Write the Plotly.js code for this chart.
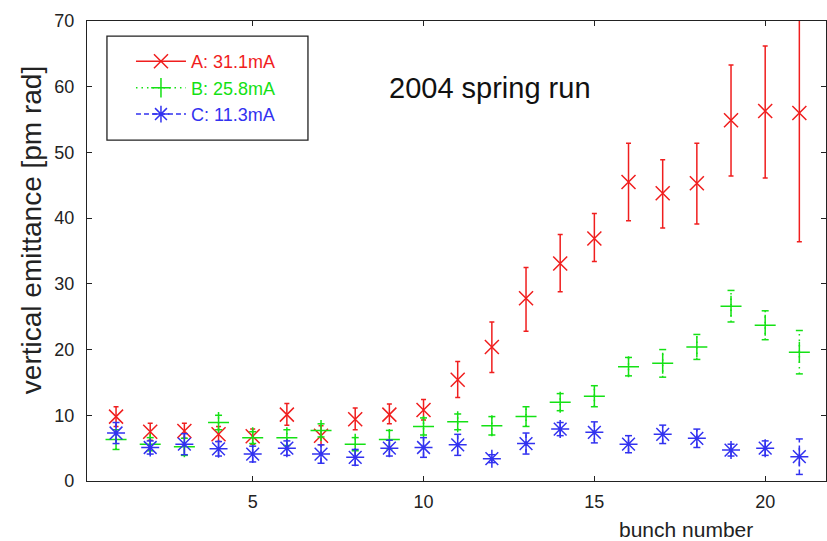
<!DOCTYPE html>
<html>
<head>
<meta charset="utf-8">
<script src="https://cdn.plot.ly/plotly-3.0.1.min.js"></script>
<style>
  html, body { margin: 0; padding: 0; background: #fff; }
  #chart { width: 827px; height: 541px; }
</style>
</head>
<body>
<div id="chart"></div>
<script>
// Bunch-by-bunch vertical emittance, 2004 spring run
const bunch = [1,2,3,4,5,6,7,8,9,10,11,12,13,14,15,16,17,18,19,20,21];

// A: 31.1 mA
const emitA     = [9.8, 7.5, 7.6, 7.1, 6.8, 10.1, 6.9, 9.4, 10.1, 10.8, 15.4, 20.4, 27.8, 33.1, 36.9, 45.5, 43.8, 45.3, 54.9, 56.3, 56.0];
const errA_up   = [1.5, 1.3, 1.2, 1.2, 1.1, 1.7, 1.5, 1.7, 1.6, 1.6, 2.8, 3.8, 4.7, 4.4, 3.8, 5.9, 5.1, 6.1, 8.4, 9.9, 19.6];
const errA_down = [1.5, 1.3, 1.1, 1.1, 1.2, 1.6, 1.4, 1.6, 1.4, 1.5, 2.7, 3.9, 5.0, 4.3, 3.5, 5.9, 5.3, 6.2, 8.5, 10.2, 19.6];

// B: 25.8 mA
const emitB = [6.3, 5.6, 5.2, 8.9, 6.6, 6.6, 7.7, 5.6, 6.3, 8.3, 9.0, 8.4, 9.8, 12.0, 12.9, 17.4, 17.9, 20.4, 26.6, 23.7, 19.6];
const errB  = [1.5, 1.0, 1.3, 1.1, 0.9, 1.2, 1.0, 1.0, 1.4, 1.3, 1.2, 1.4, 1.5, 1.3, 1.6, 1.4, 2.1, 1.9, 2.4, 2.2, 3.3];

// C: 11.3 mA
const emitC = [7.3, 5.1, 5.6, 4.9, 4.1, 5.0, 4.1, 3.6, 5.0, 5.1, 5.5, 3.4, 5.7, 7.9, 7.4, 5.6, 7.1, 6.5, 4.7, 5.0, 3.7];
const errC  = [1.6, 1.0, 1.6, 1.1, 1.2, 1.1, 1.4, 1.2, 1.2, 1.5, 1.6, 0.6, 1.6, 1.0, 1.6, 1.3, 1.4, 1.4, 0.9, 1.1, 2.7];

const seriesNames = ['A: 31.1mA', 'B: 25.8mA', 'C: 11.3mA'];
const yTicks = [0, 10, 20, 30, 40, 50, 60, 70];
const xTicks = [5, 10, 15, 20];

const RED = 'rgb(240,30,30)';
const GREEN = 'rgb(20,225,20)';
const BLUE = 'rgb(50,50,240)';
const FONT = 'Liberation Sans, Arial, Helvetica, sans-serif';

// markers with solid error bars (series A)
function solidErrTrace(y, up, down, color, symbol, size) {
  return {
    x: bunch, y: y, type: 'scatter', mode: 'markers', showlegend: false,
    marker: { symbol: symbol, size: size, color: color, line: { color: color, width: 1.5 } },
    error_y: { type: 'data', symmetric: false, array: up, arrayminus: down,
               color: color, thickness: 1.5, width: 2.5 }
  };
}

// error bars drawn as styled segments plus end caps (series B, C)
function styledErrTraces(y, err, color, dash) {
  const sx = [], sy = [], cx = [], cy = [];
  bunch.forEach(function (b, i) {
    sx.push(b, b, null);
    sy.push(y[i] - err[i], y[i] + err[i], null);
    cx.push(b, b);
    cy.push(y[i] - err[i], y[i] + err[i]);
  });
  return [
    { x: sx, y: sy, type: 'scatter', mode: 'lines', showlegend: false, hoverinfo: 'skip',
      line: { color: color, width: 1.5, dash: dash } },
    { x: cx, y: cy, type: 'scatter', mode: 'markers', showlegend: false, hoverinfo: 'skip',
      marker: { symbol: 'line-ew-open', size: 5, color: color, line: { color: color, width: 1.5 } } }
  ];
}

function markerTrace(y, color, symbol, size) {
  return {
    x: bunch, y: y, type: 'scatter', mode: 'markers', showlegend: false,
    marker: { symbol: symbol, size: size, color: color, line: { color: color, width: 1.5 } }
  };
}

// legend-only entries carrying the line style of each series
function legendTrace(name, color, symbol, dash) {
  return {
    x: [null], y: [null], type: 'scatter', mode: 'lines+markers', name: name,
    line: { color: color, width: 1.5, dash: dash },
    marker: { symbol: symbol, size: 14, color: color, line: { color: color, width: 1.5 } }
  };
}

const DOTS = '1.5px,4px';
const DASHES = '5px,3px';

const data = [].concat(
  [solidErrTrace(emitA, errA_up, errA_down, RED, 'x-thin-open', 14)],
  styledErrTraces(emitB, errB, GREEN, DOTS),
  [markerTrace(emitB, GREEN, 'cross-thin-open', 15)],
  styledErrTraces(emitC, errC, BLUE, DASHES),
  [markerTrace(emitC, BLUE, 'asterisk-open', 15)],
  [legendTrace(seriesNames[0], RED, 'x-thin-open', 'solid'),
   legendTrace(seriesNames[1], GREEN, 'cross-thin-open', DOTS),
   legendTrace(seriesNames[2], BLUE, 'asterisk-open', DASHES)]
);

const axisCommon = {
  showline: true, linecolor: '#222', linewidth: 1.2, mirror: 'ticks',
  ticks: 'inside', ticklen: 5, tickwidth: 1, tickcolor: '#222',
  showgrid: false, zeroline: false,
  tickfont: { family: FONT, size: 18, color: '#222' }
};

const layout = {
  width: 827, height: 541,
  margin: { l: 87, r: 1, t: 21, b: 60 },
  paper_bgcolor: '#fff', plot_bgcolor: '#fff',
  font: { family: FONT, color: '#222' },
  xaxis: Object.assign({}, axisCommon, {
    range: [0.15, 21.78], tickmode: 'array', tickvals: xTicks,
    ticktext: xTicks.map(String), ticklabelstandoff: 4
  }),
  yaxis: Object.assign({}, axisCommon, {
    range: [0, 70], tickmode: 'array', tickvals: yTicks,
    ticktext: yTicks.map(String), ticklabelstandoff: 8
  }),
  legend: {
    x: 0.0595, y: 0.952, xanchor: 'left', yanchor: 'top',
    bgcolor: 'rgba(0,0,0,0)', borderwidth: 0,
    font: { family: FONT, size: 18 }, itemwidth: 50, tracegroupgap: 0
  },
  shapes: [
    // legend frame
    { type: 'rect', xref: 'paper', yref: 'paper', x0: 0.027, x1: 0.299, y0: 0.741, y1: 0.967,
      line: { color: '#222', width: 1.3 }, fillcolor: '#fff', layer: 'below' }
  ],
  annotations: [
    { text: '2004 spring run', xref: 'paper', yref: 'paper', x: 0.545, y: 0.854,
      xanchor: 'center', yanchor: 'middle', showarrow: false,
      font: { family: FONT, size: 29, color: '#111' } },
    { text: 'bunch number', xref: 'paper', yref: 'paper', x: 0.81, y: -0.105,
      xanchor: 'center', yanchor: 'middle', showarrow: false,
      font: { family: FONT, size: 21, color: '#222' } },
    { text: 'vertical emittance [pm rad]', xref: 'paper', yref: 'paper', x: -0.074, y: 0.546,
      xanchor: 'center', yanchor: 'middle', textangle: -90, showarrow: false,
      font: { family: FONT, size: 28, color: '#222' } }
  ]
};

// legend text takes the series colour
Plotly.newPlot('chart', data, layout, { displayModeBar: false, staticPlot: true }).then(function () {
  const colors = [RED, GREEN, BLUE];
  document.querySelectorAll('.legend .traces .legendtext').forEach(function (t, i) {
    t.style.fill = colors[i];
  });
});
</script>
</body>
</html>
